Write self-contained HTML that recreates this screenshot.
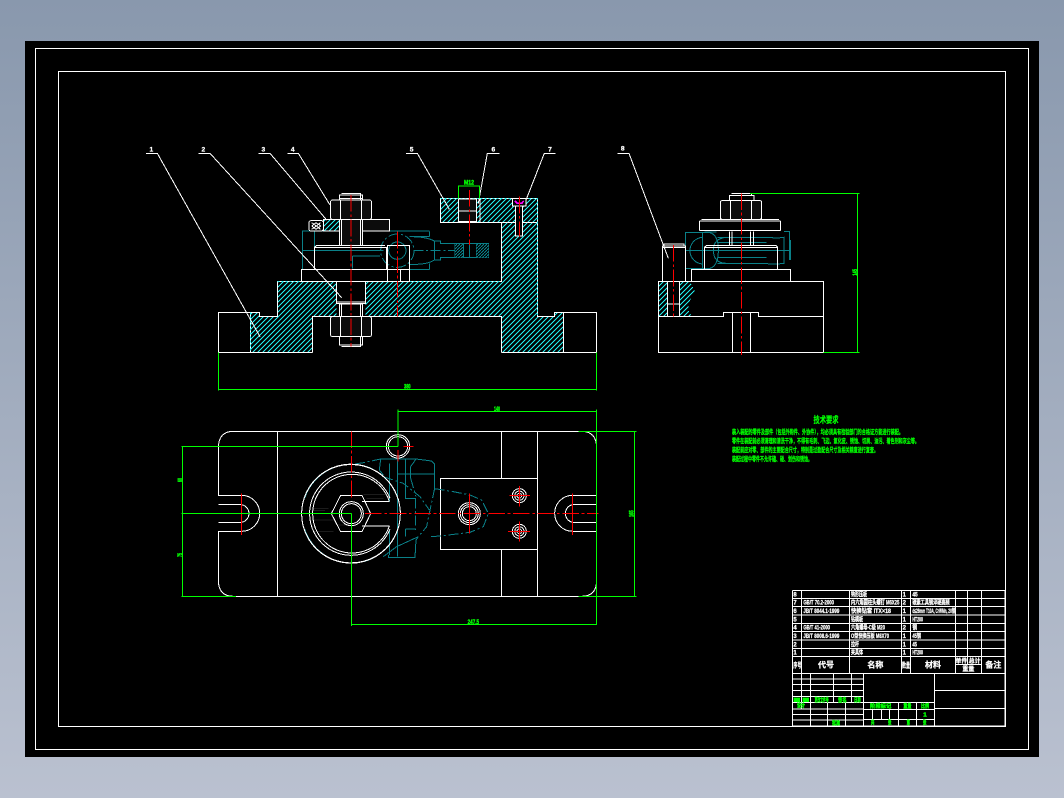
<!DOCTYPE html>
<html><head><meta charset="utf-8"><style>
html,body{margin:0;padding:0;width:1064px;height:798px;overflow:hidden;background:#000}
svg{display:block}
text{font-family:"Liberation Sans","Noto Sans CJK SC",sans-serif}
.w{fill:none;stroke:#fff;stroke-width:3}
.f{fill:#0c0c0c;stroke:#fff;stroke-width:3}
.b{fill:#000;stroke:#fff;stroke-width:3}
.t{fill:none;stroke:#0a8088;stroke-width:3}
.td{fill:none;stroke:#0a8088;stroke-width:3;stroke-dasharray:30 8 6 8}
.g{fill:none;stroke:#0f0;stroke-width:3}
.r{fill:none;stroke:#f00;stroke-width:3}
.rd{fill:none;stroke:#f00;stroke-width:3;stroke-dasharray:50 8 8 8}
.h{fill:url(#hatch);stroke:none}
.gt{fill:#0f0;font-weight:700;stroke:#0f0;stroke-width:.25}
.gs{fill:#0f0;font-weight:700;stroke:#0f0;stroke-width:1.2}
.wt{fill:#fff;font-weight:700;stroke:#fff;stroke-width:.8}
</style></head><body>
<svg width="1064" height="798" viewBox="0 0 1064 798" xmlns="http://www.w3.org/2000/svg" shape-rendering="crispEdges">
<defs>
<linearGradient id="bg" x1="0" y1="0" x2="0" y2="1"><stop offset="0" stop-color="#8998ad"/><stop offset="1" stop-color="#bac1d0"/></linearGradient>
<pattern id="hatch" patternUnits="userSpaceOnUse" width="15" height="15"><rect width="15" height="15" fill="#000"/><path d="M0 15L15 0M-3 3L3 -3M12 18L18 12" stroke="#20f0f0" stroke-width="3" fill="none"/></pattern>
<pattern id="hatch2" patternUnits="userSpaceOnUse" width="9" height="9"><rect width="9" height="9" fill="#000"/><path d="M0 9L9 0" stroke="#0a8088" stroke-width="3" fill="none"/></pattern>
</defs>
<rect width="1064" height="798" fill="url(#bg)"/>
<rect x="25" y="41" width="1014" height="716" fill="#000"/>
<rect x="35.5" y="48.5" width="993" height="701" fill="none" stroke="#fff"/>
<rect x="58.5" y="71.5" width="947" height="655" fill="none" stroke="#fff"/>

<!-- FRONT VIEW -->
<g transform="translate(130 130) scale(.33333)">
<path class="t" d="M517 418V303H898M553 303V352M517 362H760M838 320H898M838 418H898M898 305V320M898 400V418M838 320Q890 320 913 333V390Q890 405 838 403M913 333H932V340H975V382H932V390H913M975 340H1076V382H975M1000 340V382M1018 340V382M1040 340V382M1076 348V375M668 378H750M668 378V415"/>
<circle class="td" cx="802" cy="362" r="50"/><circle class="t" cx="802" cy="362" r="26"/>
<path class="td" d="M850 362H975"/>
<rect x="975" y="342" width="24" height="40" fill="url(#hatch2)"/><rect x="1040" y="342" width="36" height="40" fill="url(#hatch2)"/>
<path class="h" d="M361 547H388V559H442V454H620V559H548V667H361Z"/>
<path class="h" d="M706 454H1114V277H1040V205H1223V559H1273V547H1300V667H1114V559H706Z"/>
<path class="h" d="M932 205H985V277H932Z"/>
<path class="w" d="M265 667V547H361M1400 667V547H1300M265 667H548M1114 667H1400M361 547V667M1300 547V667M361 547H388V559H442V454H620M706 454H1114V277H932V205H1223V559H1273V547H1300M1114 277H1223M548 667V559H620M706 559H1114V667"/>
<path stroke="#10e8e8" stroke-width="3" stroke-dasharray="6 6" fill="none" d="M932 205H1223V555M361 547V667M442 454H1114"/>
<rect class="f" x="985" y="207" width="55" height="68"/><path class="w" d="M985 243H1040M1050 205V277"/>
<rect class="b" x="1147" y="205" width="41" height="23"/><rect class="b" x="1157" y="228" width="21" height="90"/><path class="w" d="M1157 318H1178" stroke-width="6"/>
<path stroke="#f0f" stroke-width="5" fill="none" d="M1155 213L1162 220H1175L1181 213"/>
<!-- clamp & nuts -->
<rect class="f" x="580" y="268" width="198" height="35"/>
<rect class="h" x="582" y="270" width="45" height="32"/>
<rect class="b" x="537" y="272" width="43" height="31" rx="6"/>
<path class="w" d="M545 278L572 298M572 278L545 298M558 278L545 288M558 278L572 288M558 298L545 288M558 298L572 288"/>
<rect class="f" x="628" y="268" width="70" height="78"/><path class="w" d="M634 268V346M692 268V346"/>
<rect class="f" x="601" y="210" width="124" height="58" rx="7"/><path class="w" d="M631 210V268M695 210V268"/>
<path class="w" d="M628 210V195H698V210M634 190H692V210M628 205H698"/>
<path class="w" d="M560 346H765M553 418V352H770V418M553 352L560 346"/>
<rect class="w" x="514" y="418" width="325" height="36"/>
<path class="w" d="M772 454V346H838V454M812 418V454"/>
<path class="f" d="M620 454H706V520H620Z" style="fill:#000"/>
<path class="w" d="M620 516H706M620 521H706"/>
<rect class="f" x="628" y="522" width="70" height="38" style="fill:#000"/><path class="w" d="M634 522V560M692 522V560"/>
<rect class="f" x="601" y="560" width="124" height="60" rx="7"/><path class="w" d="M631 560V620M695 560V620"/>
<path class="w" d="M628 620V645H698V620M634 650H692V620"/>
<path class="rd" d="M663 195V650M802 305V560M1018 180V345M1168 200V320"/>
<!-- leaders -->
<path class="w" d="M48 70H82L390 620M205 70H240L635 503M385 70H420L590 270M472 70H505L600 225M828 70H862L958 238M1108 70H1072L1045 220M1277 70H1243L1188 210"/>
<!-- dims -->
<path class="g" d="M265 667V782M1400 667V782M265 778H1400M985 205V168H1049V205"/>
<text class="gs" x="832" y="776" font-size="18" text-anchor="middle" textLength="20" lengthAdjust="spacingAndGlyphs">380</text>
<text class="gs" x="1017" y="164" font-size="18" text-anchor="middle" textLength="30" lengthAdjust="spacingAndGlyphs">M12</text>
<g font-size="20" class="wt" text-anchor="middle"><text x="64" y="64">1</text><text x="220" y="64">2</text><text x="400" y="64">3</text><text x="488" y="64">4</text><text x="845" y="64">5</text><text x="1090" y="64">6</text><text x="1260" y="64">7</text></g>
</g>

<!-- TOP VIEW -->
<g transform="translate(170 400) scale(.33333)">
<path class="w" d="M190 94H1235Q1280 94 1280 145V286H1208A54 54 0 0 0 1208 394H1280V540Q1280 589 1235 589H190Q145 589 145 540V394H215A54 54 0 0 0 215 286H145V145Q145 94 190 94ZM145 314H215A27 27 0 0 1 215 367H145M1280 314H1208A27 27 0 0 0 1208 367H1280M322 94V589M994 94V235M994 448V589M1102 94V589"/>
<path d="M430 325H475M430 332H465M430 360H490M500 375H540M430 394H490M580 284H650M590 295H640" stroke="#1c1c1c" stroke-width="3" fill="none"/>
<rect class="w" x="811" y="235" width="291" height="213"/>
<!-- teal -->
<path class="td" d="M555 192L580 188L632 177M794 265L780 330L770 380L745 410M794 266L850 275L900 285L935 300L955 340L940 380L900 397L835 405L811 408L780 410M722 235L738 290M640 230L700 250L750 290L778 330M737 295V390"/>
<path class="t" d="M632 177H738L785 183L794 192V265M632 177L628 210L640 225M658 190V305M682 178V470M706 177V295H738M738 177L722 200V235M682 222H794M745 410L680 440L640 470M706 387H737M706 387V410M658 388V465M655 465V472H735L738 420L745 410M898 285V397"/>
<path class="t" d="M404 295A148 148 0 0 1 610 208M404 387A148 148 0 0 0 610 474"/>
<!-- circles -->
<g class="w">
<circle cx="684" cy="139" r="35"/><circle cx="684" cy="139" r="29"/>
<path d="M691 341A148 148 0 1 0 691 342M691 341A148 148 0 1 1 691 340" stroke-dasharray="none"/>
<path d="M658 304A118 118 0 1 0 658 378M658 304H576M658 378H576"/>
<path d="M660 295A125 125 0 1 0 660 387"/>
<path d="M484 341L512 286H576L602 341L576 395H512Z"/>
<circle cx="544" cy="341" r="36"/><circle cx="544" cy="341" r="30"/>
<circle cx="898" cy="341" r="33"/><circle cx="898" cy="341" r="27"/><circle cx="898" cy="341" r="21"/>
<circle cx="1048" cy="287" r="21"/><circle cx="1048" cy="287" r="14"/><circle cx="1048" cy="287" r="7"/>
<circle cx="1048" cy="394" r="21"/><circle cx="1048" cy="394" r="14"/><circle cx="1048" cy="394" r="7"/>
</g>
<path class="r" d="M700 139H730M684 150V185M1018 287H1080M1048 258V320M1014 394H1080M1048 364V425M898 280V400M214 280V405M1208 280V405"/>
<path class="rd" d="M585 341H1285M544 94V300"/>
<path class="g" d="M35 139H684M35 341H544M35 589H198M1225 94H1400M1225 589H1400M38 139V589M1393 94V589M684 28V139M1280 28V675M684 34H1280M544 341V678M544 673H1280"/>
<text class="gs" x="981" y="33" font-size="18" text-anchor="middle" textLength="18" lengthAdjust="spacingAndGlyphs">140</text>
<text class="gs" x="910" y="672" font-size="18" text-anchor="middle" textLength="34" lengthAdjust="spacingAndGlyphs">247.5</text>
<text class="gs" font-size="18" text-anchor="middle" transform="translate(36 240) rotate(-90)" textLength="12" lengthAdjust="spacingAndGlyphs">60</text>
<text class="gs" font-size="18" text-anchor="middle" transform="translate(36 465) rotate(-90)" textLength="12" lengthAdjust="spacingAndGlyphs">75</text>
<text class="gs" font-size="18" text-anchor="middle" transform="translate(1391 341) rotate(-90)" textLength="20" lengthAdjust="spacingAndGlyphs">165</text>
</g>

<!-- SIDE VIEW -->
<g transform="translate(610 140) scale(.33333)">
<path class="t" d="M226 385V278H300Q325 285 325 330Q325 378 300 385ZM226 278L320 276M278 278V385M226 331H540M310 330Q310 295 350 292H462Q510 295 522 292V370Q480 375 470 370H350Q310 370 310 330ZM522 275H538V358H542V300M240 335A40 40 0 0 0 278 372M278 292A40 40 0 0 0 240 335M322 352H470M322 370H470M322 292H470M322 308H470"/>
<path class="h" d="M147 424H172V529H147ZM208 424H240L255 455L235 490V510L245 529H208Z"/>
<path class="w" d="M145 424H640V637H145ZM145 529H340V517H445V529H640M367 517V637M421 517V637M172 424V529M208 424V529"/>
<path class="w" d="M172 492H208" stroke-width="6"/>
<path class="w" d="M157 424V318H227V424M162 318V312H222V318M157 322H227"/>
<rect class="w" x="244" y="388" width="298" height="36"/>
<path class="w" d="M283 388V322H503V388M283 322L290 316H498L503 322"/>
<path class="w" d="M358 275V316M366 275V316M422 275V316M430 275V316"/>
<rect class="b" x="268" y="243" width="244" height="29" rx="4"/><path class="w" d="M275 238H507"/>
<rect class="f" x="331" y="182" width="124" height="56" rx="5"/><path class="w" d="M361 182V238M424 182V238"/>
<path class="w" d="M358 182V167H432V182M365 160H425V167"/>
<path class="rd" d="M394 160V645M190 315V529"/>
<path class="w" d="M22 40H57L175 355"/>
<path class="g" d="M420 160H748M640 637H748M743 160V637"/>
<text class="gs" font-size="18" text-anchor="middle" transform="translate(741 397) rotate(-90)" textLength="20" lengthAdjust="spacingAndGlyphs">145</text>
<text class="wt" x="38" y="32" font-size="20" text-anchor="middle">8</text>
</g>

<!-- TECH REQUIREMENTS -->
<g class="gt">
<text x="826" y="423" font-size="9" text-anchor="middle" textLength="25" lengthAdjust="spacingAndGlyphs">技术要求</text>
<text x="732" y="434" font-size="6.5" textLength="171" lengthAdjust="spacingAndGlyphs">装入装配的零件及部件（包括外购件、外协件），均必须具有检验部门的合格证方能进行装配。</text>
<text x="732" y="443" font-size="6.5" textLength="187" lengthAdjust="spacingAndGlyphs">零件在装配前必须清理和清洗干净，不得有毛刺、飞边、氧化皮、锈蚀、切屑、油污、着色剂和灰尘等。</text>
<text x="732" y="452" font-size="6.5" textLength="146" lengthAdjust="spacingAndGlyphs">装配前应对零、部件的主要配合尺寸，特别是过盈配合尺寸及相关精度进行复查。</text>
<text x="732" y="461" font-size="6.5" textLength="80" lengthAdjust="spacingAndGlyphs">装配过程中零件不允许磕、碰、划伤和锈蚀。</text>
</g>

<!-- TITLE BLOCK -->
<g transform="translate(785 585) scale(.33333)">
<path class="w" d="M22 16H660M22 40H660M22 65H660M22 90H660M22 115H660M22 140H660M22 165H660M22 190H660M22 214H660M22 265H660M22 16V423M50 16V265M193 16V265M350 16V265M377 16V265M511 16V265M548 16V238M590 16V265M660 16V423M511 238H590"/>
<path class="w" d="M22 282H235M22 299H235M22 316H235M22 334H235M22 352H448M22 372H235M22 388H235M22 405H235M22 423H660M50 265V372M76 265V423M145 265V352M199 265V352M127 352V423M181 352V423M235 265V423M448 265V423M235 373H448M235 403H448M340 352V423M394 352V423M262 373V403M289 373V403M313 373V403M448 316H660M448 370H660"/>
<g class="wt" font-size="18">
<g text-anchor="middle"><text x="30" y="35">8</text><text x="30" y="59">7</text><text x="30" y="84">6</text><text x="30" y="109">5</text><text x="30" y="134">4</text><text x="30" y="159">3</text><text x="30" y="184">2</text><text x="30" y="208">1</text>
<text x="358" y="35">1</text><text x="358" y="59">2</text><text x="358" y="84">1</text><text x="358" y="109">1</text><text x="358" y="134">2</text><text x="358" y="159">1</text><text x="358" y="184">1</text><text x="358" y="208">1</text></g>
<text x="55" y="59" textLength="92" lengthAdjust="spacingAndGlyphs">GB/T 70.2-2000</text>
<text x="55" y="84" textLength="108" lengthAdjust="spacingAndGlyphs">JB/T 8044.1-1999</text>
<text x="55" y="134" textLength="80" lengthAdjust="spacingAndGlyphs">GB/T 41-2000</text>
<text x="55" y="159" textLength="108" lengthAdjust="spacingAndGlyphs">JB/T 8008.6-1999</text>
<text x="198" y="35" textLength="48" lengthAdjust="spacingAndGlyphs">钩形压板</text>
<text x="198" y="59" textLength="145" lengthAdjust="spacingAndGlyphs">内六角圆柱头螺钉 M6X25</text>
<text x="198" y="84" textLength="120" lengthAdjust="spacingAndGlyphs">快换钻套 ITX×18</text>
<text x="198" y="109" textLength="36" lengthAdjust="spacingAndGlyphs">钻模板</text>
<text x="198" y="134" textLength="102" lengthAdjust="spacingAndGlyphs">六角螺母-C级 M20</text>
<text x="198" y="159" textLength="114" lengthAdjust="spacingAndGlyphs">O型快换压板 M8X70</text>
<text x="198" y="184" textLength="24" lengthAdjust="spacingAndGlyphs">拉杆</text>
<text x="198" y="208" textLength="36" lengthAdjust="spacingAndGlyphs">夹具体</text>
<text x="382" y="35" textLength="16" lengthAdjust="spacingAndGlyphs">45</text>
<text x="382" y="59" textLength="112" lengthAdjust="spacingAndGlyphs">碳素工具钢淬硬高频</text>
<text x="382" y="84" textLength="128" lengthAdjust="spacingAndGlyphs">d≤26mm T10A, CrWMn, 20钢</text>
<text x="382" y="109" textLength="32" lengthAdjust="spacingAndGlyphs">HT200</text>
<text x="382" y="134" textLength="14" lengthAdjust="spacingAndGlyphs">钢</text>
<text x="382" y="159" textLength="26" lengthAdjust="spacingAndGlyphs">45钢</text>
<text x="382" y="184" textLength="14" lengthAdjust="spacingAndGlyphs">45</text>
<text x="382" y="208" textLength="32" lengthAdjust="spacingAndGlyphs">HT200</text>
</g>
<g class="wt" font-size="24" text-anchor="middle">
<text x="37" y="248" font-size="20" textLength="24" lengthAdjust="spacingAndGlyphs">序号</text>
<text x="123" y="248">代号</text><text x="271" y="248">名称</text>
<text x="363" y="248" font-size="20" textLength="24" lengthAdjust="spacingAndGlyphs">数量</text>
<text x="444" y="248">材料</text><text x="529" y="234" font-size="18">单件</text><text x="569" y="234" font-size="18">总计</text><text x="550" y="258" font-size="18">重量</text><text x="625" y="248">备注</text>
</g>
<g class="gs" font-size="17" text-anchor="middle">
<rect x="27" y="339" width="18" height="12" fill="#0f0"/><rect x="54" y="339" width="18" height="12" fill="#0f0"/>
<text x="110" y="351" textLength="42" lengthAdjust="spacingAndGlyphs">更改文件号</text>
<text x="172" y="351" textLength="26" lengthAdjust="spacingAndGlyphs">签名</text>
<text x="217" y="351" textLength="20" lengthAdjust="spacingAndGlyphs">日期</text>
<text x="48" y="368" textLength="24" lengthAdjust="spacingAndGlyphs">设计</text>
<text x="153" y="420" textLength="24" lengthAdjust="spacingAndGlyphs">批准</text>
<text x="287" y="369" textLength="64" lengthAdjust="spacingAndGlyphs">阶段标记</text>
<text x="367" y="369" textLength="24" lengthAdjust="spacingAndGlyphs">重量</text>
<text x="420" y="369" textLength="24" lengthAdjust="spacingAndGlyphs">比例</text>
<text x="420" y="394" textLength="11" lengthAdjust="spacingAndGlyphs">1</text>
<text x="263" y="419" textLength="10" lengthAdjust="spacingAndGlyphs">共</text>
<text x="314" y="419" textLength="10" lengthAdjust="spacingAndGlyphs">张</text>
<text x="370" y="419" textLength="10" lengthAdjust="spacingAndGlyphs">第</text>
<text x="419" y="419" textLength="10" lengthAdjust="spacingAndGlyphs">张</text>
</g>
</g>
</svg>
</body></html>
